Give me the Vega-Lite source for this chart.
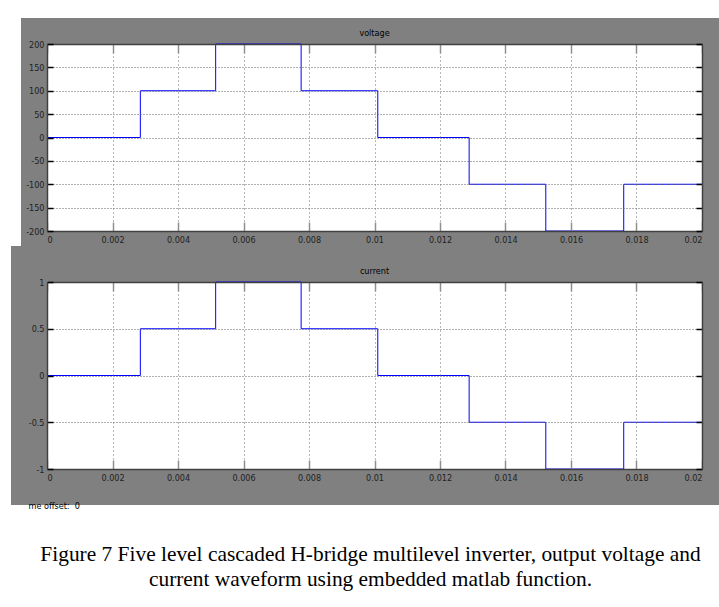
{
  "$schema": "https://vega.github.io/schema/vega-lite/v6.json",
  "background": "white",
  "padding": {"left": -8, "top": 3, "right": 0, "bottom": 0},
  "data": {"values": [
    {"t": 0, "voltage": 0, "current": 0},
    {"t": 0.00285, "voltage": 100, "current": 0.5},
    {"t": 0.00515, "voltage": 200, "current": 1},
    {"t": 0.00776, "voltage": 100, "current": 0.5},
    {"t": 0.0101, "voltage": 0, "current": 0},
    {"t": 0.01289, "voltage": -100, "current": -0.5},
    {"t": 0.01523, "voltage": -200, "current": -1},
    {"t": 0.01761, "voltage": -100, "current": -0.5},
    {"t": 0.02, "voltage": -100, "current": -0.5}
  ]},
  "spacing": 51,
  "bounds": "flush",
  "title": {
    "text": ["Figure 7 Five level cascaded H-bridge multilevel inverter, output voltage and", "current waveform using embedded matlab function."],
    "orient": "bottom", "anchor": "middle", "font": "Liberation Serif", "fontSize": 21.4,
    "fontWeight": "normal", "lineHeight": 25, "color": "black", "offset": -2, "dx": 4.5
  },
  "vconcat": [
    {
      "width": 655, "height": 187,
      "title": "voltage",
      "view": {"stroke": "#808080", "strokeWidth": 52, "fill": "white"},
      "layer": [
        {"data": {"values": [{}]}, "mark": {"type": "rect", "fill": "white", "stroke": null}, "encoding": {}},
        {
          "mark": {"type": "line", "interpolate": "step-after", "color": "#0000ff", "strokeWidth": 1},
          "encoding": {
            "x": {"field": "t", "type": "quantitative", "scale": {"domain": [0, 0.02], "nice": false, "zero": false},
              "axis": {"orient": "bottom", "zindex": 1, "values": [0, 0.002, 0.004, 0.006, 0.008, 0.01, 0.012, 0.014, 0.016, 0.018, 0.02],
                "labelExpr": "'' + datum.value", "title": null, "tickSize": -9, "tickColor": "#909090", "tickWidth": 1.5,
                "labelPadding": 13, "grid": true, "gridColor": "#707070", "gridDash": [1, 3]}},
            "y": {"field": "voltage", "type": "quantitative", "scale": {"domain": [-200, 200], "nice": false},
              "axis": {"orient": "left", "zindex": 1, "values": [-200, -150, -100, -50, 0, 50, 100, 150, 200],
                "labelExpr": "'' + datum.value", "title": null, "tickSize": -6, "tickColor": "black", "tickWidth": 1.5,
                "labelPadding": 9, "grid": true, "gridDash": [1, 2], "gridColor": "#606060"}}
          }
        },
        {
          "mark": {"type": "line", "interpolate": "step-after", "opacity": 0},
          "encoding": {
            "x": {"field": "t", "type": "quantitative", "scale": {"domain": [0, 0.02], "nice": false, "zero": false},
              "axis": {"orient": "top", "zindex": 1, "values": [0, 0.002, 0.004, 0.006, 0.008, 0.01, 0.012, 0.014, 0.016, 0.018, 0.02],
                "labels": false, "title": null, "tickSize": -9, "tickColor": "#909090", "tickWidth": 1.5, "grid": false}},
            "y": {"field": "voltage", "type": "quantitative", "scale": {"domain": [-200, 200], "nice": false},
              "axis": {"orient": "right", "zindex": 1, "values": [-200, -150, -100, -50, 0, 50, 100, 150, 200],
                "labels": false, "title": null, "tickSize": -6, "tickColor": "black", "tickWidth": 1.5, "grid": false}}
          }
        }
      ],
      "resolve": {"axis": {"x": "independent", "y": "independent"}}
    },
    {
      "width": 655, "height": 187,
      "title": "current",
      "view": {"stroke": "#808080", "strokeWidth": 72, "fill": "white"},
      "layer": [
        {"data": {"values": [{}]}, "mark": {"type": "rect", "fill": "white", "stroke": null}, "encoding": {}},
        {
          "mark": {"type": "line", "interpolate": "step-after", "color": "#0000ff", "strokeWidth": 1},
          "encoding": {
            "x": {"field": "t", "type": "quantitative", "scale": {"domain": [0, 0.02], "nice": false, "zero": false},
              "axis": {"orient": "bottom", "zindex": 1, "values": [0, 0.002, 0.004, 0.006, 0.008, 0.01, 0.012, 0.014, 0.016, 0.018, 0.02],
                "labelExpr": "'' + datum.value", "tickSize": -9, "tickColor": "#909090", "tickWidth": 1.5,
                "labelPadding": 13, "grid": true, "gridColor": "#707070", "gridDash": [1, 3],
                "title": "me offset:\u00a0\u00a00", "titleX": -19, "titleY": 36, "titleAlign": "left", "titleBaseline": "middle",
                "titleFont": "DejaVu Sans Condensed, Liberation Sans, sans-serif", "titleFontSize": 9, "titleFontWeight": "normal", "titleColor": "black"}},
            "y": {"field": "current", "type": "quantitative", "scale": {"domain": [-1, 1], "nice": false},
              "axis": {"orient": "left", "zindex": 1, "values": [-1, -0.5, 0, 0.5, 1],
                "labelExpr": "'' + datum.value", "title": null, "tickSize": -6, "tickColor": "black", "tickWidth": 1.5,
                "labelPadding": 9, "grid": true, "gridDash": [1, 2], "gridColor": "#606060"}}
          }
        },
        {
          "mark": {"type": "line", "interpolate": "step-after", "opacity": 0},
          "encoding": {
            "x": {"field": "t", "type": "quantitative", "scale": {"domain": [0, 0.02], "nice": false, "zero": false},
              "axis": {"orient": "top", "zindex": 1, "values": [0, 0.002, 0.004, 0.006, 0.008, 0.01, 0.012, 0.014, 0.016, 0.018, 0.02],
                "labels": false, "title": null, "tickSize": -9, "tickColor": "#909090", "tickWidth": 1.5, "grid": false}},
            "y": {"field": "current", "type": "quantitative", "scale": {"domain": [-1, 1], "nice": false},
              "axis": {"orient": "right", "zindex": 1, "values": [-1, -0.5, 0, 0.5, 1],
                "labels": false, "title": null, "tickSize": -6, "tickColor": "black", "tickWidth": 1.5, "grid": false}}
          }
        }
      ],
      "resolve": {"axis": {"x": "independent", "y": "independent"}}
    }
  ],
  "config": {
    "axis": {
      "labelFont": "DejaVu Sans Condensed, Liberation Sans, sans-serif", "labelFontSize": 9, "labelColor": "#222222",
      "domainColor": "#404040", "domainWidth": 1.5
    },
    "title": {"font": "DejaVu Sans Condensed, Liberation Sans, sans-serif", "fontSize": 9, "fontWeight": "normal", "color": "black", "offset": 2}
  }
}
